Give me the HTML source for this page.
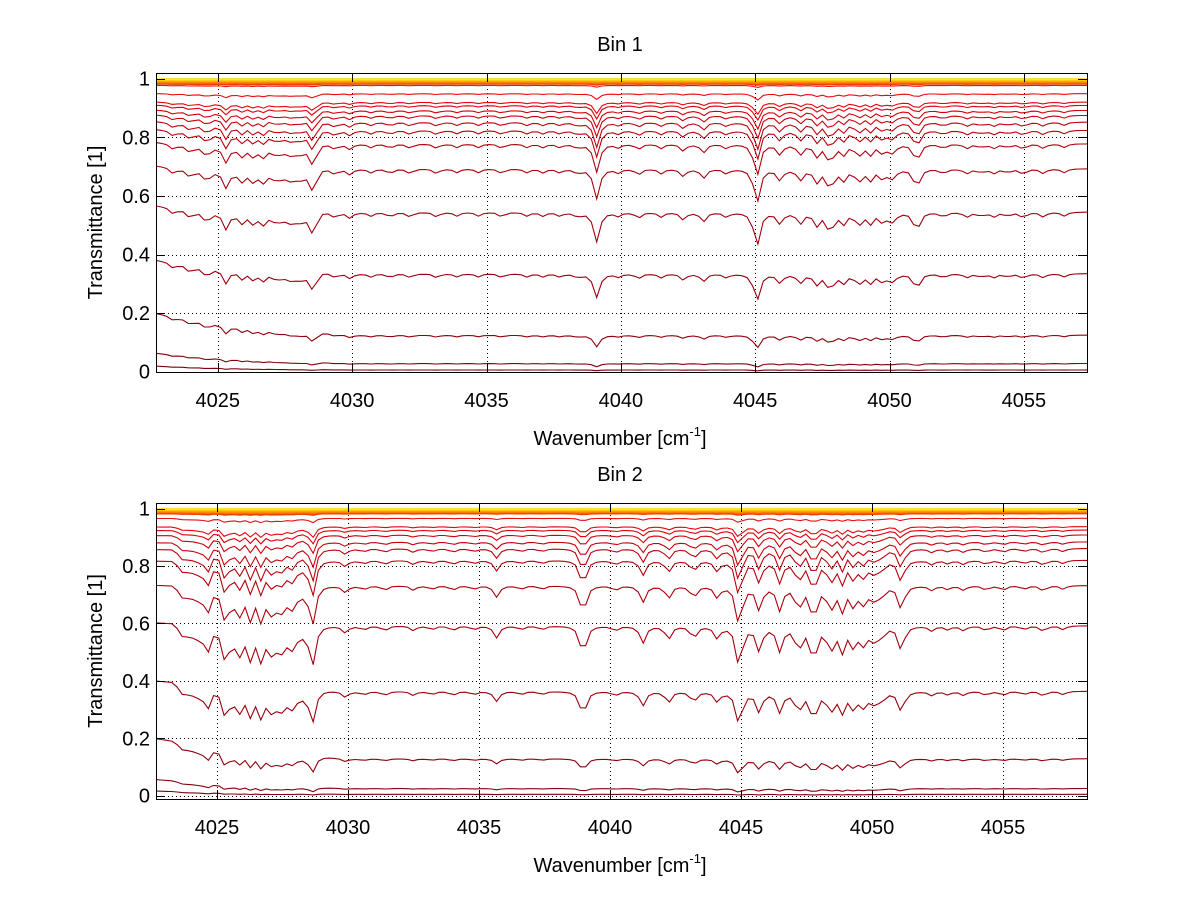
<!DOCTYPE html>
<html><head><meta charset="utf-8"><style>
html,body{margin:0;padding:0;background:#fff;}
svg text{font-family:"Liberation Sans",Arial,sans-serif;fill:#000;}
</style></head><body>
<svg id="fig" width="1200" height="901" viewBox="0 0 1200 901" xmlns="http://www.w3.org/2000/svg">
<rect width="1200" height="901" fill="#fff"/>
</svg>
<script>
// ---------- DATA ----------
const levels1 = [0.006,0.028,0.125,0.335,0.545,0.693,0.778,0.824,0.852,0.875,0.892,0.909,0.92,0.949,0.977,0.983,0.987,0.99,0.992,0.994,0.996,0.998,0.999];
const levels2 = [0.005,0.025,0.129,0.364,0.592,0.732,0.82,0.861,0.884,0.908,0.925,0.937,0.966,0.983,0.987,0.99,0.992,0.994,0.996,0.998,0.999];
const lines1C = [4023.35,4023.97,4024.59,4025.31,4025.89,4026.33,4026.7,4027.2,4027.63,4028.0,4028.56,4029.37,4029.92,4030.7,4031.41,4032.16,4033.15,4033.9,4034.7,4035.57,4036.5,4037.1,4037.74,4038.4,4039.1,4039.9,4040.65,4041.5,4042.33,4043.07,4043.94,4045.06,4045.93,4046.67,4047.29,4047.79,4048.28,4048.84,4049.28,4049.77,4050.14,4051.01,4052.0,4052.87,4053.4,4053.87,4054.4,4054.98,4055.73,4056.5];
const lines1D = [0.06,0.08,0.12,0.18,0.1,0.1,0.1,0.09,0.08,0.08,0.2,0.06,0.06,0.04,0.05,0.05,0.05,0.04,0.04,0.05,0.04,0.04,0.04,0.05,0.34,0.04,0.06,0.05,0.08,0.1,0.05,0.4,0.12,0.12,0.14,0.24,0.12,0.14,0.12,0.12,0.1,0.22,0.05,0.05,0.04,0.05,0.04,0.06,0.05,0.04];
const lines2C = [4024.61,4025.34,4025.81,4026.26,4026.7,4027.15,4027.53,4027.91,4028.65,4029.9,4030.6,4031.4,4032.5,4033.2,4034.0,4034.8,4035.67,4036.6,4037.4,4038.97,4040.2,4041.25,4042.22,4043.19,4044.1,4044.93,4045.7,4046.48,4047.19,4047.77,4048.41,4048.86,4049.32,4049.7,4050.03,4050.35,4051.12,4052.28,4052.9,4053.5,4054.35,4055.0,4055.8,4056.54,4057.3];
const lines2D = [0.33,0.44,0.33,0.33,0.36,0.33,0.24,0.19,0.42,0.07,0.04,0.05,0.05,0.04,0.05,0.04,0.13,0.04,0.04,0.35,0.05,0.19,0.15,0.14,0.13,0.5,0.28,0.28,0.28,0.43,0.28,0.28,0.24,0.19,0.14,0.14,0.28,0.05,0.04,0.05,0.05,0.05,0.04,0.06,0.04];
const base1X = [4022.7,4024.2,4028.5,4028.9,4057.4];
const base1V = [0.0,0.04,0.07,0.0,0.0];
const base2X = [4022.6,4023.4,4023.6,4024.4,4024.5,4028.5,4028.9,4058.3];
const base2V = [0.02,0.02,0.15,0.15,0.04,0.08,0.0,0.0];
const tiltX = [4022.6,4030,4058.3];
const tiltV = [0.11,0.0,0.0];
const xTicks1 = [4025,4030,4035,4040,4045,4050,4055];
const yTicks = [0,0.2,0.4,0.6,0.8,1];
const yTickLabels = ["0","0.2","0.4","0.6","0.8","1"];

const NS="http://www.w3.org/2000/svg";
const svg=document.getElementById('fig');
function mk(tag,attrs,parent){const e=document.createElementNS(NS,tag);for(const k in attrs)e.setAttribute(k,attrs[k]);(parent||svg).appendChild(e);return e;}
function interp(xs,vs,x){if(x<=xs[0])return vs[0];for(let i=1;i<xs.length;i++){if(x<=xs[i]){const t=(x-xs[i-1])/(xs[i]-xs[i-1]);return vs[i-1]+t*(vs[i]-vs[i-1]);}}return vs[vs.length-1];}
function lineSum(C,D,x,w){let s=0;for(let i=0;i<C.length;i++){const d=(x-C[i])/w;s+=D[i]/(1+d*d);}return s;}
function color(i,n,L){
  if(L>0.98){const c=['#e84000','#f05a00','#ff7000','#ff8800','#ff9a00','#ffb000','#ffc800','#ffe040'];return c[Math.min(c.length-1,Math.round((L-0.983)/0.016*(c.length-1)))];}
  const t=i/(n-1);const r=Math.round(125+125*Math.min(1,t*1.5)),g=Math.round(Math.max(0,t-0.5)*110);return `rgb(${r},${g},${Math.round(g*0.3)+12})`;
}

function drawPanel(cfg){
  const g=mk('g',{});
  
  
  const X=v=>cfg.left+(v-cfg.xmin)*cfg.sx;
  const Y=v=>cfg.y0-v*cfg.sy;
  const grid=mk('g',{stroke:'#000','stroke-width':1,'stroke-dasharray':'1,3'},g);
  
  
  xTicks1.forEach(t=>{const x=Math.round(X(t))+0.5;mk('line',{x1:x,x2:x,y1:cfg.top,y2:cfg.bottom},grid);});
  yTicks.forEach(t=>{const y=Math.round(Y(t))+0.5;mk('line',{x1:cfg.left,x2:cfg.right,y1:y,y2:y},grid);});
  const clip='clip'+cfg.id;
  const cp=mk('clipPath',{id:clip},g);mk('rect',{x:cfg.left,y:cfg.top,width:cfg.right-cfg.left,height:cfg.bottom-cfg.top},cp);
  const cg=mk('g',{'clip-path':`url(#${clip})`,fill:'none','stroke-width':1.1},g);
  const n=cfg.levels.length;
  cfg.levels.forEach((L,i)=>{
    const A=-Math.log(L);
    const s=Math.sqrt(0.6*A)*Math.min(1,A/0.15);
    let d='';
    for(let x=cfg.xmin;x<=cfg.xmax+0.2;x+=0.2){
      const Ab=A*(1-interp(tiltX,tiltV,x)*Math.min(A,2.1))+s*(interp(cfg.bx,cfg.bv,x)+lineSum(cfg.lc,cfg.ld,x,0.13));
      const T=Math.exp(-Ab);
      d+=(d?'L':'M')+X(x).toFixed(1)+','+Y(T).toFixed(1);
    }
    const p=mk('path',{d:d,stroke:color(i,n,L),'stroke-width':L>0.98?2:1.1},cg);
    
    
  });
  const box=mk('rect',{x:cfg.left+0.5,y:cfg.top+0.5,width:cfg.right-cfg.left,height:cfg.bottom-cfg.top,fill:'none',stroke:'#000'},g);
  
  
  xTicks1.forEach(t=>{const x=Math.round(X(t))+0.5;
    mk('line',{x1:x,x2:x,y1:cfg.bottom,y2:cfg.bottom-9,stroke:'#000'},g);
    mk('line',{x1:x,x2:x,y1:cfg.top,y2:cfg.top+9,stroke:'#000'},g);
    const tx=mk('text',{x:X(t),y:cfg.bottom+35,'font-size':20,'text-anchor':'middle'},g);tx.textContent=t;
    
    
  });
  yTicks.forEach((t,k)=>{const y=Math.round(Y(t))+0.5;
    mk('line',{x1:cfg.left,x2:cfg.left+9,y1:y,y2:y,stroke:'#000'},g);
    mk('line',{x1:cfg.right,x2:cfg.right-9,y1:y,y2:y,stroke:'#000'},g);
    const ty=mk('text',{x:cfg.left-6,y:Y(t)+7,'font-size':20,'text-anchor':'end'},g);ty.textContent=yTickLabels[k];
    
    
  });
  const ti=mk('text',{x:620,y:cfg.top-22,'font-size':20,'text-anchor':'middle'},g);ti.textContent=cfg.title;
  
  
  const xl=mk('text',{x:620,y:cfg.bottom+73,'font-size':20,'text-anchor':'middle'},g);
  xl.innerHTML='Wavenumber [cm<tspan dy="-9" font-size="13">-1</tspan><tspan dy="9">]</tspan>';
  
  
  const cy=(cfg.top+cfg.bottom)/2;
  const yl=mk('text',{x:0,y:0,'font-size':20,'text-anchor':'middle',transform:`translate(102,${cy}) rotate(-90)`},g);yl.textContent='Transmittance [1]';
  
  
}

drawPanel({id:1,name:'bin-1-panel',title:'Bin 1',left:156,right:1087,top:73,bottom:372,xmin:4022.7,xmax:4057.35,sx:26.87,y0:371.7,sy:293,
  levels:levels1,lc:lines1C,ld:lines1D,bx:base1X,bv:base1V});
drawPanel({id:2,name:'bin-2-panel',title:'Bin 2',left:156,right:1087,top:503,bottom:799,xmin:4022.67,xmax:4058.2,sx:26.2,y0:795.7,sy:287.2,
  levels:levels2,lc:lines2C,ld:lines2D,bx:base2X,bv:base2V});
</script>
</body></html>
